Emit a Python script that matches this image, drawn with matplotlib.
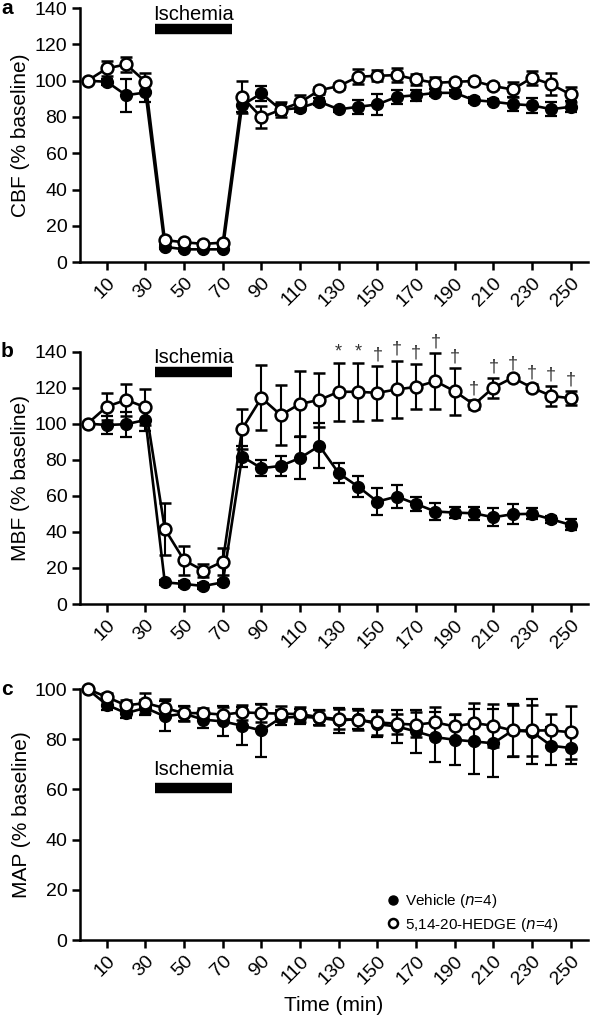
import matplotlib.pyplot as plt
import numpy as np
from matplotlib.lines import Line2D

plt.rcParams['font.family'] = ['Liberation Sans', 'DejaVu Sans']

time = np.arange(0, 260, 10)
tick_times = np.arange(10, 260, 20)
ischemia = (35, 75)

# CBF (% baseline)
cbf_veh = [100, 99.4, 92, 93.5, 8.4, 7, 7, 7, 86.5, 93, 84, 85, 88.4, 84.2,
           85.6, 86.9, 91.1, 92, 93.3, 93.3, 89.3, 88.4, 87.1, 86.4, 84.3, 85.6]
cbf_veh_err = [0, 1.5, 9, 5, 1, 1, 1, 1, 4, 4, 3, 2, 2, 1.5, 4, 6, 4, 3, 2,
               1.5, 1.5, 1.5, 4, 4, 4, 3]
cbf_hed = [100, 106.8, 109, 99.4, 12.1, 10.9, 10, 10.7, 91, 79.8, 84, 88,
           94.8, 97, 102.2, 102.7, 103.1, 100.7, 98.8, 99.4, 99.8, 97, 95.2,
           101.6, 98, 92.4]
cbf_hed_err = [0, 4, 4, 5, 1, 1, 1, 1, 9, 6, 4, 4, 2, 1.5, 4, 3, 4, 3, 3,
               1.5, 1.5, 1.5, 4, 4, 6, 4]

# MBF (% baseline)
mbf_veh = [100, 99.3, 99.7, 102.1, 12, 11.1, 10, 12, 81.8, 75.3, 76.6, 81,
           87.7, 72.5, 65.1, 56.8, 59.6, 55.5, 51.3, 50.7, 50.3, 48.1, 49.8,
           50, 47, 43.9]
mbf_veh_err = [0, 5, 7, 6, 1.5, 1.5, 1.5, 1.5, 6, 4.5, 5.5, 11.5, 12.5, 5.5,
               6, 7.5, 6.5, 4, 4.5, 3, 3.5, 5, 5.5, 3, 2, 3]
mbf_hed = [100, 109.5, 113.2, 109.1, 41.6, 24.2, 18.5, 23.5, 97.1, 114.3,
           104.8, 111, 113.2, 117.7, 117.7, 117.1, 119, 120.4, 123.6, 118,
           110.6, 120, 125.5, 120, 115.4, 114.1]
mbf_hed_err = [0, 7.5, 9, 10, 14.5, 8, 3.5, 7.5, 11, 18, 16.5, 18, 15, 16, 16,
               15, 16, 12.5, 15.5, 13, 2.5, 5.5, 1.5, 2, 5.5, 4]
mbf_sig = [''] * 13 + ['*', '*'] + ['\u2020'] * 11

# MAP (% baseline)
map_veh = [100, 93.7, 90.4, 92.5, 89.1, 90.2, 87.8, 87.1, 85.4, 83.5, 88.5,
           89, 88.5, 87.5, 88, 86, 85.1, 83.1, 80.8, 79.8, 79.1, 78.4, 83.5,
           83, 77.4, 76.5]
map_veh_err = [0, 2, 2, 3, 6, 3, 3.5, 6, 7.5, 10.5, 3, 3, 3, 5, 4, 5, 6.5,
               8.5, 10, 10, 13, 13.5, 10.5, 13, 7.5, 6.5]
map_hed = [100, 96.8, 93.5, 94.4, 92.4, 90.4, 90.4, 89.8, 90.7, 90.4, 90.2,
           90, 88.8, 88, 87.7, 86.7, 86.2, 85.8, 86.7, 85.1, 86.4, 85.4, 83.5,
           83.5, 83.5, 82.8]
map_hed_err = [0, 1.5, 2, 4, 3.5, 3, 2, 3, 3, 3.5, 3, 3, 3, 4, 4, 5, 4, 5, 6,
               5, 8, 8.5, 10, 10, 6.5, 10.5]

fig = plt.figure(figsize=(6, 10.22), dpi=100)
axa = fig.add_axes([0.133, 0.7436, 0.847, 0.2484])
axb = fig.add_axes([0.133, 0.409, 0.847, 0.247])
axc = fig.add_axes([0.133, 0.0802, 0.847, 0.2456])

FS = 14


def draw(ax, veh, veh_err, hed, hed_err):
    kw = dict(color='black', lw=1.9, capsize=4.5, elinewidth=1.5,
              capthick=1.6, ms=8.5, clip_on=False)
    ax.errorbar(time, veh, yerr=veh_err, fmt='-o', mfc='black', mec='black',
                label='Vehicle ($n$=4)', zorder=3, **kw)
    ax.errorbar(time, hed, yerr=hed_err, fmt='-o', mfc='white', mec='black',
                mew=1.8, label='5,14-20-HEDGE ($n$=4)', zorder=4, **kw)


def style(ax, ymax, ystep, ylabel, letter):
    ax.set_xlim(-4, 259)
    ax.set_ylim(0, ymax)
    ax.set_yticks(np.arange(0, ymax + 1, ystep))
    ax.set_xticks(tick_times)
    ax.set_xticklabels([str(t) for t in tick_times], rotation=45,
                       ha='right', rotation_mode='anchor')
    for s in ['top', 'right']:
        ax.spines[s].set_visible(False)
    for s in ['left', 'bottom']:
        ax.spines[s].set_linewidth(1.8)
    ax.tick_params(width=1.8, length=6, labelsize=FS, pad=3)
    ax.set_ylabel(ylabel, fontsize=15, labelpad=3)
    ax.text(-0.155, 1.0, letter, transform=ax.transAxes, fontsize=15,
            fontweight='bold', va='center', ha='left')


def bar(ax, ybar, ytext):
    ax.plot(ischemia, [ybar, ybar], color='black', lw=7.5,
            solid_capstyle='butt')
    ax.text(np.mean(ischemia), ytext, 'Ischemia', ha='center', va='bottom',
            fontsize=14.5)


draw(axa, cbf_veh, cbf_veh_err, cbf_hed, cbf_hed_err)
style(axa, 140, 20, 'CBF (% baseline)', 'a')
bar(axa, 128.5, 131.5)

draw(axb, mbf_veh, mbf_veh_err, mbf_hed, mbf_hed_err)
style(axb, 140, 20, 'MBF (% baseline)', 'b')
bar(axb, 128.5, 131.5)
for t, v, e, s in zip(time, mbf_hed, mbf_hed_err, mbf_sig):
    if s:
        axb.text(t, v + e + 1.5, s, ha='center', va='bottom', fontsize=13,
                 color='#333333')

draw(axc, map_veh, map_veh_err, map_hed, map_hed_err)
style(axc, 100, 20, 'MAP (% baseline)', 'c')
bar(axc, 60.7, 64)
axc.set_xlabel('Time (min)', fontsize=15, labelpad=6)

labels = ['Vehicle ($n$=4)', '5,14-20-HEDGE ($n$=4)']
h2 = [Line2D([], [], marker='o', ls='none', mfc='black', mec='black', ms=6.5),
      Line2D([], [], marker='o', ls='none', mfc='white', mec='black', mew=1.8,
             ms=6.5)]
axc.legend(h2, labels, loc='lower right', bbox_to_anchor=(0.97, -0.03),
           frameon=False, fontsize=11, handletextpad=0.3, labelspacing=0.35,
           handlelength=1.0)

fig.savefig('out.png', dpi=100)
